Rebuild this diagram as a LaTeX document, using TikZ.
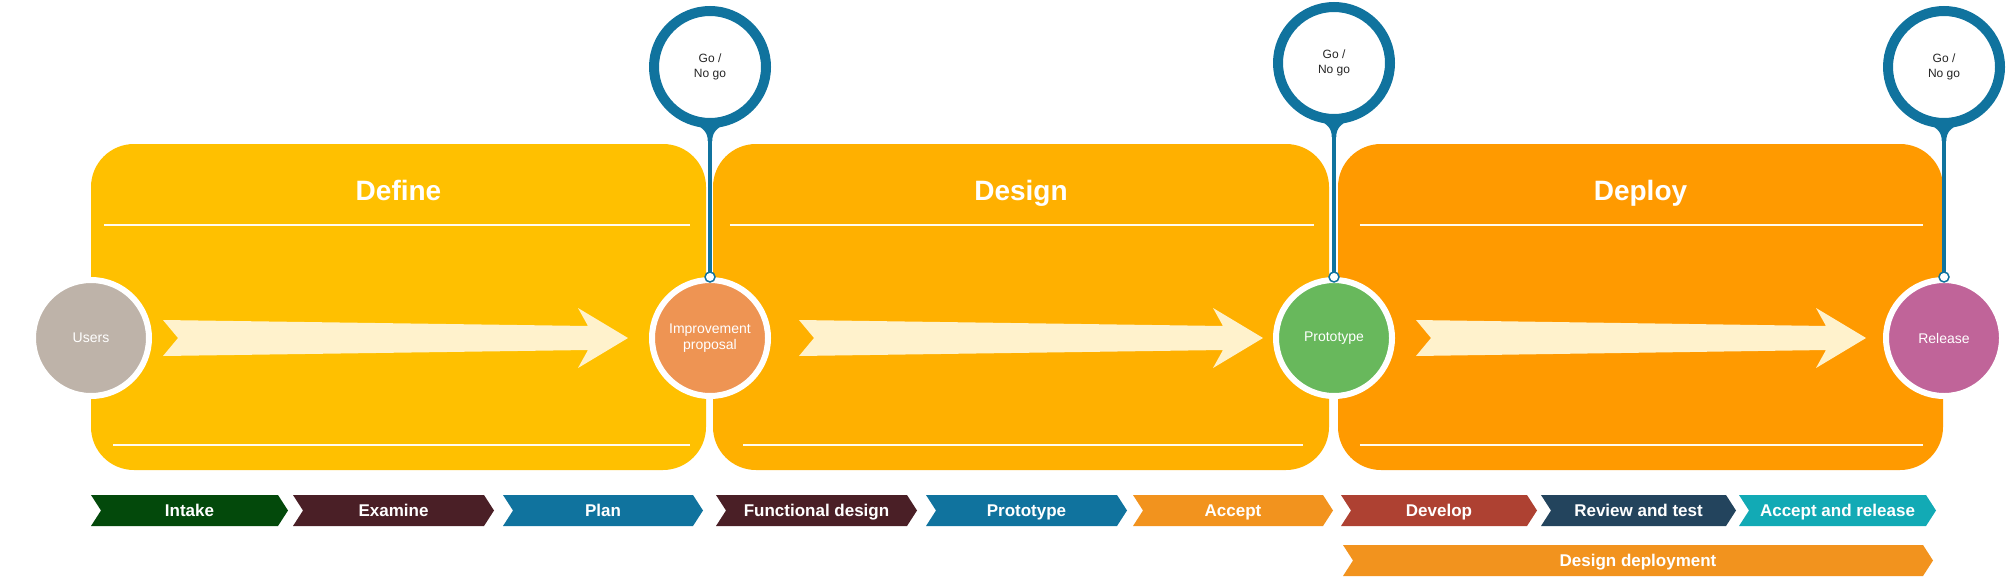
\documentclass[tikz,border=0pt]{standalone}
\usepackage{fontspec}
\setmainfont{Liberation Sans}
\usetikzlibrary{calc, positioning}

\definecolor{defineclr}{HTML}{FFC000}
\definecolor{designclr}{HTML}{FFB000}
\definecolor{deployclr}{HTML}{FF9A00}
\definecolor{creamclr}{HTML}{FFF2CC}
\definecolor{goblue}{HTML}{10739E}
\definecolor{usersclr}{HTML}{BEB3A9}
\definecolor{improveclr}{HTML}{EE9453}
\definecolor{protoclr}{HTML}{68B85C}
\definecolor{releaseclr}{HTML}{C06499}
\definecolor{intakeclr}{HTML}{03490B}
\definecolor{maroonclr}{HTML}{4A1F26}
\definecolor{acceptclr}{HTML}{F2931E}
\definecolor{devclr}{HTML}{AE4132}
\definecolor{reviewclr}{HTML}{23445D}
\definecolor{accrelclr}{HTML}{12AAB5}

\tikzset{
  phasebox/.style={rectangle, rounded corners=43pt, minimum height=326pt, inner sep=0pt},
  phasetitle/.style={anchor=base, text=white, font=\bfseries\fontsize{28}{32}\selectfont},
  sepline/.style={draw=white!70!creamclr, line width=2pt},
  flow/.style={fill=creamclr},
  milestone/.style={circle, draw=white, line width=6pt, minimum size=116pt, inner sep=0pt,
    text=white, align=center, font=\fontsize{14}{16}\selectfont},
  gocircle/.style={circle, draw=goblue, fill=white, line width=10pt, minimum size=112pt,
    inner sep=0pt, text=black!85, align=center, font=\fontsize{12}{15}\selectfont},
  stem/.style={draw=goblue, line width=4.5pt},
  joint/.style={circle, draw=goblue, fill=white, line width=1.5pt, minimum size=10pt, inner sep=0pt},
  steplabel/.style={anchor=base, text=white, font=\bfseries\fontsize{17}{20}\selectfont},
}

\begin{document}
\begin{tikzpicture}[x=1pt, y=-1pt]
\useasboundingbox (0,0) rectangle (2008,576);

% phases
\node[phasebox, fill=defineclr, minimum width=615pt] (define) at (398.5,307) {};
\node[phasebox, fill=designclr, minimum width=616pt] (design) at (1021,307) {};
\node[phasebox, fill=deployclr, minimum width=605pt] (deploy) at (1640.5,307) {};

\node[phasetitle] (definetitle) at ($(define.north)+(0,57)$) {Define};
\node[phasetitle] (designtitle) at ($(design.north)+(0,57)$) {Design};
\node[phasetitle] (deploytitle) at ($(deploy.north)+(0,57)$) {Deploy};

\draw[sepline] ($(define.north west)+(13,81)$) -- ($(define.north east)+(-16,81)$);
\draw[sepline] ($(define.south west)+(22,-25)$) -- ($(define.south east)+(-16,-25)$);
\draw[sepline] ($(design.north west)+(17,81)$) -- ($(design.north east)+(-15,81)$);
\draw[sepline] ($(design.south west)+(30,-25)$) -- ($(design.south east)+(-26,-25)$);
\draw[sepline] ($(deploy.north west)+(22,81)$) -- ($(deploy.north east)+(-20,81)$);
\draw[sepline] ($(deploy.south west)+(22,-25)$) -- ($(deploy.south east)+(-20,-25)$);

% big arrows
\foreach \xa/\xb in {163/628, 799/1263, 1416/1866}
  \fill[flow] (\xa,320) -- (\xb-40,326) -- (\xb-50,308) -- (\xb,338) -- (\xb-50,368)
    -- (\xb-40,350) -- (\xa,356) -- (\xa+15,338) -- cycle;

% milestones
\node[milestone, fill=usersclr] (users) at (91,338) {Users};
\node[milestone, fill=improveclr] (improve) at (710,338) {Improvement\\proposal};
\node[milestone, fill=protoclr] (prototype) at (1334,338) {Prototype};
\node[milestone, fill=releaseclr] (release) at (1944,338) {Release};

% go / no go
\node[gocircle] (go1) at (710,67) {Go /\\No go};
\node[gocircle] (go2) at (1334,63) {Go /\\No go};
\node[gocircle] (go3) at (1944,67) {Go /\\No go};

\foreach \g/\m in {go1/improve, go2/prototype, go3/release} {
  \draw[stem] (\g.south) -- (\m.north);
  \fill[goblue] ($(\g.center)+(-20,55)$) .. controls ($(\g.center)+(-8,60)$) and ($(\g.center)+(-2.25,64)$) .. ($(\g.center)+(-2.25,74)$)
    -- ($(\g.center)+(2.25,74)$) .. controls ($(\g.center)+(2.25,64)$) and ($(\g.center)+(8,60)$) .. ($(\g.center)+(20,55)$) -- cycle;
  \node[joint] (j\g) at (\m.north) {};
}

% steps
\foreach \nm/\xa/\xb/\clr/\txt in {intake/91/288/intakeclr/Intake, examine/293/494/maroonclr/Examine,
    plan/503/703/goblue/Plan, funcdesign/716/917/maroonclr/Functional design,
    protostep/926/1127/goblue/Prototype, accept/1133/1333/acceptclr/Accept,
    develop/1341/1537/devclr/Develop, review/1541/1736/reviewclr/Review and test,
    acceptrel/1739/1936/accrelclr/Accept and release} {
  \fill[\clr] (\xa,495) -- (\xb-10,495) -- (\xb,510.5) -- (\xb-10,526) -- (\xa,526) -- (\xa+10,510.5) -- cycle;
  \node[steplabel] (\nm) at ({(\xa+\xb)/2},516.5) {\txt};
}

\fill[acceptclr] (1343,545) -- (1923,545) -- (1933,560.5) -- (1923,576) -- (1343,576) -- (1353,560.5) -- cycle;
\node[steplabel] (designdeploy) at (1638,566.5) {Design deployment};

\end{tikzpicture}
\end{document}
